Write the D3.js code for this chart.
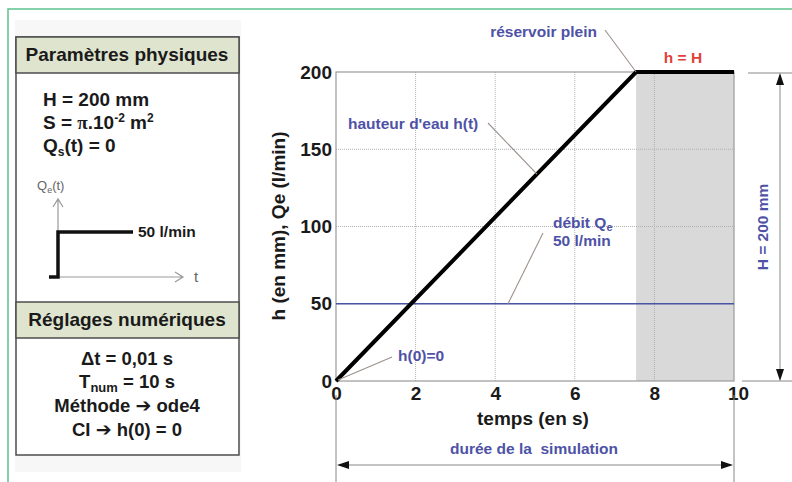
<!DOCTYPE html>
<html>
<head>
<meta charset="utf-8">
<script src="https://cdnjs.cloudflare.com/ajax/libs/d3/7.8.5/d3.min.js"></script>
<style>
  body { margin: 0; background: #fff; }
  svg { display: block; font-family: "Liberation Sans", Arial, sans-serif; }
  .bold { font-weight: bold; }
  .blue { fill: #4e52a6; font-weight: bold; font-size: 15.5px; }
</style>
</head>
<body>
<svg id="chart" width="792" height="482"></svg>
<script>
// data
var hTime   = [0, 7.54, 10];
var hValues = [0, 200, 200];
var qeTime   = [0, 10];
var qeValues = [50, 50];
var tFull = 7.54;
var xTicks = [0, 2, 4, 6, 8, 10];
var yTicks = [0, 50, 100, 150, 200];

var svg = d3.select("#chart");

// outer green frame
svg.append("path").attr("d", "M8,482V9H792").attr("fill", "none")
  .attr("stroke", "#5cc18c").attr("stroke-width", 1.5);

// ---------- left panel ----------
svg.append("rect").attr("x", 15).attr("y", 20).attr("width", 226).attr("height", 452).attr("fill", "#f7f7f7");
var box = svg.append("g");
box.append("rect").attr("x", 16).attr("y", 37).attr("width", 223).attr("height", 418)
  .attr("fill", "#fff").attr("stroke", "#4d4d4d").attr("stroke-width", 1.5);
[[37, 73], [302, 338]].forEach(function(r) {
  box.append("rect").attr("x", 16).attr("y", r[0]).attr("width", 223).attr("height", r[1] - r[0])
    .attr("fill", "#dfe4cf").attr("stroke", "#4d4d4d").attr("stroke-width", 1.5);
});
box.append("text").attr("class", "bold").attr("x", 127).attr("y", 61).attr("text-anchor", "middle")
  .attr("font-size", 19).attr("fill", "#1a1a1a").text("Paramètres physiques");
box.append("text").attr("class", "bold").attr("x", 127).attr("y", 326).attr("text-anchor", "middle")
  .attr("font-size", 19).attr("fill", "#1a1a1a").text("Réglages numériques");

var p1 = box.append("text").attr("class", "bold").attr("font-size", 19).attr("fill", "#1a1a1a");
p1.append("tspan").attr("x", 43).attr("y", 106).text("H = 200 mm");
var l2 = p1.append("tspan").attr("x", 43).attr("y", 129);
l2.append("tspan").text("S = ");
l2.append("tspan").attr("font-family", "Liberation Serif, serif").text("π");
l2.append("tspan").text(".10");
l2.append("tspan").attr("font-size", 12).attr("dy", -7).text("-2");
l2.append("tspan").attr("dy", 7).text(" m");
l2.append("tspan").attr("font-size", 12).attr("dy", -7).text("2");
var l3 = p1.append("tspan").attr("x", 43).attr("y", 152).attr("dy", 0);
l3.append("tspan").text("Q");
l3.append("tspan").attr("font-size", 12).attr("dy", 4).text("s");
l3.append("tspan").attr("dy", -4).text("(t) = 0");

// mini step chart Qe(t)
var mini = box.append("g");
mini.append("path").attr("d", "M58,278V199M53,207L58,199L63,207").attr("fill", "none").attr("stroke", "#999").attr("stroke-width", 1.2);
mini.append("path").attr("d", "M58,277H183M175,272L183,277L175,282").attr("fill", "none").attr("stroke", "#999").attr("stroke-width", 1.2);
mini.append("path").attr("d", "M49,277H58V232H133").attr("fill", "none").attr("stroke", "#111").attr("stroke-width", 3.5);
var qe = mini.append("text").attr("x", 37).attr("y", 190).attr("font-size", 13).attr("fill", "#666");
qe.append("tspan").text("Q");
qe.append("tspan").attr("font-size", 9).attr("dy", 3).text("e");
qe.append("tspan").attr("dy", -3).text("(t)");
mini.append("text").attr("class", "bold").attr("x", 138).attr("y", 237).attr("font-size", 15.5).attr("fill", "#1a1a1a").text("50 l/min");
mini.append("text").attr("x", 194).attr("y", 282).attr("font-size", 15).attr("fill", "#666").text("t");

var p2 = box.append("text").attr("class", "bold").attr("font-size", 18.5).attr("fill", "#1a1a1a").attr("text-anchor", "middle");
p2.append("tspan").attr("x", 127).attr("y", 365).text("Δt = 0,01 s");
var t2 = p2.append("tspan").attr("x", 127).attr("y", 388);
t2.append("tspan").text("T");
t2.append("tspan").attr("font-size", 13).attr("dy", 4).text("num");
t2.append("tspan").attr("dy", -4).text(" = 10 s");
var t3 = p2.append("tspan").attr("x", 127).attr("y", 412);
t3.append("tspan").text("Méthode ");
t3.append("tspan").attr("font-family", "DejaVu Sans").attr("font-size", 19).text("➔");
t3.append("tspan").text(" ode4");
var t4 = p2.append("tspan").attr("x", 127).attr("y", 436);
t4.append("tspan").text("CI ");
t4.append("tspan").attr("font-family", "DejaVu Sans").attr("font-size", 19).text("➔");
t4.append("tspan").text(" h(0) = 0");

// ---------- main chart ----------
var x = d3.scaleLinear().domain([0, 10]).range([336, 734]);
var y = d3.scaleLinear().domain([0, 200]).range([381, 72]);

// shaded "full tank" region
svg.append("rect").attr("x", x(tFull)).attr("y", y(200))
  .attr("width", x(10) - x(tFull)).attr("height", y(0) - y(200)).attr("fill", "#d9d9d9");

// grid
var grid = svg.append("g").attr("stroke", "#b0b0b0").attr("stroke-width", 1).attr("stroke-dasharray", "1,1");
xTicks.slice(1, -1).forEach(function(t) {
  grid.append("line").attr("x1", x(t)).attr("x2", x(t)).attr("y1", y(0)).attr("y2", y(200));
});
yTicks.slice(1, -1).forEach(function(v) {
  grid.append("line").attr("x1", x(0)).attr("x2", x(10)).attr("y1", y(v)).attr("y2", y(v));
});
svg.append("rect").attr("x", x(0)).attr("y", y(200)).attr("width", x(10) - x(0)).attr("height", y(0) - y(200))
  .attr("fill", "none").attr("stroke", "#999").attr("stroke-width", 1.2);

// axes
var xAxis = svg.append("g").attr("transform", "translate(0," + y(0) + ")")
  .call(d3.axisBottom(x).tickValues(xTicks).tickSize(0).tickPadding(6));
var yAxis = svg.append("g").attr("transform", "translate(" + x(0) + ",0)")
  .call(d3.axisLeft(y).tickValues(yTicks).tickSize(0).tickPadding(4));
[xAxis, yAxis].forEach(function(a) {
  a.select(".domain").remove();
  a.selectAll("text").attr("font-family", "Liberation Sans, Arial, sans-serif")
    .attr("font-weight", "bold").attr("font-size", 19).attr("fill", "#1a1a1a");
});
xAxis.selectAll("text").filter(function(d) { return d === 10; }).attr("dx", 4);

svg.append("text").attr("class", "bold").attr("x", 533).attr("y", 425).attr("text-anchor", "middle")
  .attr("font-size", 19).attr("fill", "#1a1a1a").text("temps (en s)");
svg.append("text").attr("class", "bold").attr("transform", "translate(285,226) rotate(-90)")
  .attr("text-anchor", "middle").attr("font-size", 19).attr("fill", "#1a1a1a").text("h (en mm), Qe (l/min)");

// series
var line = d3.line().x(function(d) { return x(d[0]); }).y(function(d) { return y(d[1]); });
svg.append("path").datum(d3.zip(qeTime, qeValues)).attr("d", line)
  .attr("fill", "none").attr("stroke", "#4a54a6").attr("stroke-width", 1.6);
svg.append("path").datum(d3.zip(hTime, hValues)).attr("d", line)
  .attr("fill", "none").attr("stroke", "#000").attr("stroke-width", 4).attr("stroke-linejoin", "miter");

// annotations
var lead = svg.append("g").attr("stroke", "#9c928c").attr("stroke-width", 1.1).attr("fill", "none");
lead.append("line").attr("x1", 605).attr("y1", 30).attr("x2", x(tFull)).attr("y2", y(200));
lead.append("line").attr("x1", 488).attr("y1", 123).attr("x2", x(5.05)).attr("y2", y(5.05 * 200 / tFull));
lead.append("line").attr("x1", 543).attr("y1", 233).attr("x2", 508).attr("y2", y(50));
lead.append("line").attr("x1", 392).attr("y1", 357).attr("x2", x(0) + 2).attr("y2", y(0) - 1);

svg.append("text").attr("class", "blue").attr("x", 597).attr("y", 37).attr("text-anchor", "end").text("réservoir plein");
svg.append("text").attr("x", 683).attr("y", 63).attr("text-anchor", "middle").attr("font-weight", "bold")
  .attr("font-size", 15.5).attr("fill", "#e0413a").text("h = H");
svg.append("text").attr("class", "blue").attr("x", 348).attr("y", 129).text("hauteur d'eau h(t)");
var deb = svg.append("text").attr("class", "blue");
deb.append("tspan").attr("x", 553).attr("y", 228).text("débit Q");
deb.append("tspan").attr("font-size", 11).attr("dy", 3).text("e");
deb.append("tspan").attr("x", 553).attr("y", 246).text("50 l/min");
svg.append("text").attr("class", "blue").attr("x", 398).attr("y", 361).text("h(0)=0");

// dimension arrows
var dim = svg.append("g").attr("stroke", "#888").attr("stroke-width", 1).attr("fill", "none");
dim.append("line").attr("x1", 748).attr("x2", 792).attr("y1", y(200) + 1).attr("y2", y(200) + 1);
dim.append("line").attr("x1", 742).attr("x2", 792).attr("y1", y(0)).attr("y2", y(0));
dim.append("line").attr("x1", 780).attr("x2", 780).attr("y1", y(200) + 3).attr("y2", y(0) - 3);
dim.append("line").attr("x1", x(0)).attr("x2", x(0)).attr("y1", 395).attr("y2", 482);
dim.append("line").attr("x1", x(10)).attr("x2", x(10)).attr("y1", 395).attr("y2", 482);
dim.append("line").attr("x1", x(0) + 3).attr("x2", x(10) - 3).attr("y1", 465).attr("y2", 465);
var heads = svg.append("g").attr("fill", "#111");
heads.append("path").attr("d", "M780," + (y(200) + 1) + "l-4,12h8z");
heads.append("path").attr("d", "M780," + y(0) + "l-4,-12h8z");
heads.append("path").attr("d", "M" + (x(0) + 1) + ",465l12,-4v8z");
heads.append("path").attr("d", "M" + (x(10) - 1) + ",465l-12,-4v8z");

svg.append("text").attr("class", "blue").attr("transform", "translate(768,227) rotate(-90)")
  .attr("text-anchor", "middle").text("H = 200 mm");
svg.append("text").attr("class", "blue").attr("x", 534).attr("y", 454).attr("text-anchor", "middle")
  .text("durée de la  simulation").style("white-space", "pre");
</script>
</body>
</html>
